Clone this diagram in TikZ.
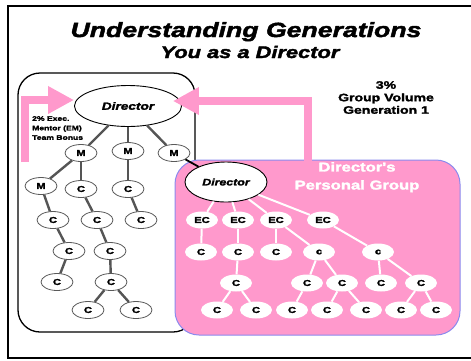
\documentclass[tikz,border=0pt]{standalone}
\usepackage{fontspec}
\setmainfont{Liberation Sans}
\newfontfamily\heavy[FakeStretch=1.3,FakeBold=2.2]{Liberation Sans}
\usepackage{tikz}
\usetikzlibrary{shapes.geometric, arrows.meta, positioning}

\definecolor{bonuspink}{HTML}{FF99CC}
\definecolor{groupedge}{HTML}{8A8AEE}
\definecolor{linkgray}{HTML}{555555}

\begin{document}
\begin{tikzpicture}[
    x=1pt, y=-1pt,
    boss/.style={ellipse, draw, line width=0.9pt, fill=white, inner sep=0pt, font=\heavy\bfseries\itshape\fontsize{10.5}{10.5}\selectfont},
    tnode/.style={ellipse, draw=black!65, line width=0.8pt, fill=white, minimum width=32pt, minimum height=17pt, inner sep=0pt, font=\heavy\bfseries\fontsize{8.5}{8.5}\selectfont},
    pnode/.style={ellipse, fill=white, minimum width=32pt, minimum height=17pt, inner sep=0pt, font=\heavy\bfseries\fontsize{8.5}{8.5}\selectfont},
    link/.style={draw=linkgray, line width=2.4pt},
    plink/.style={draw=white, line width=2pt},
    bonus/.style={draw=bonuspink, line width=8pt, -{Triangle[length=26pt,width=26pt]}}
]
\useasboundingbox (0,0) rectangle (471,360);

% Frame and titles
\draw[line width=2pt] (8,6) rectangle (476,358);
\node[anchor=base, font=\heavy\bfseries\itshape\fontsize{20.5}{21}\selectfont] (title) at (246,37) {Understanding Generations};
\node[anchor=base, font=\heavy\bfseries\itshape\fontsize{16.8}{17}\selectfont] (subtitle) at (250,58) {You as a Director};

% Director's downline
\draw[line width=1.3pt, rounded corners=22pt] (18,73) rectangle (195,332);

\node[boss, minimum width=107pt, minimum height=41pt] (dir) at (128,106) {Director};
\node[tnode] (m1) at (81,153) {M};
\node[tnode] (m2) at (128,151) {M};
\node[tnode] (m3) at (174,153) {M};
\node[tnode] (m4) at (41,186) {M};
\node[tnode] (c1) at (81,189) {C};
\node[tnode] (c2) at (128,189) {C};
\node[tnode] (c3) at (53,220) {C};
\node[tnode] (c4) at (97,220) {C};
\node[tnode] (c5) at (141,220) {C};
\node[tnode] (c6) at (69,251) {C};
\node[tnode] (c7) at (110,251) {C};
\node[tnode] (c8) at (57,282) {C};
\node[tnode] (c9) at (111,282) {C};
\node[tnode] (c10) at (88,310) {C};
\node[tnode] (c11) at (136,310) {C};

\draw[link] (dir) -- (m1);
\draw[link] (dir) -- (m2);
\draw[link] (dir) -- (m3);
\draw[link] (m1) -- (m4);
\draw[link] (m1) -- (c1);
\draw[link] (m2) -- (c2);
\draw[link] (m4) -- (c3);
\draw[link] (c1) -- (c4);
\draw[link] (c2) -- (c5);
\draw[link] (c3) -- (c6);
\draw[link] (c4) -- (c7);
\draw[link] (c6) -- (c8);
\draw[link] (c7) -- (c9);
\draw[link] (c9) -- (c10);
\draw[link] (c9) -- (c11);

% Exec. mentor bonus
\node[anchor=north west, align=left, inner sep=0pt, font=\heavy\bfseries\fontsize{6.6}{9.5}\selectfont] (embonus) at (32,116) {2\% Exec.\\Mentor (EM)\\Team Bonus};
\coordinate (bonusfoot) at (25,162);
\draw[bonus] (bonusfoot) |- ([yshift=6pt]dir.west);

% Personal group
\draw[groupedge, fill=bonuspink, line width=1pt, rounded corners=24pt] (175,160) rectangle (460,335);
\node[anchor=north, align=center, inner sep=0pt, text=white, font=\heavy\bfseries\fontsize{12.8}{18}\selectfont] (grouplabel) at (357,162) {Director's\\Personal Group};

% Group volume
\node[anchor=north, align=center, inner sep=0pt, font=\heavy\bfseries\fontsize{10.8}{12.5}\selectfont] (gvlabel) at (386,81) {3\%\\Group Volume\\Generation 1};
\coordinate (groupfoot) at (307.5,161);
\draw[bonus] (groupfoot) |- ([xshift=-9pt,yshift=5pt]dir.east);

\node[boss, minimum width=82pt, minimum height=40pt, font=\heavy\bfseries\itshape\fontsize{9.5}{9.5}\selectfont] (dirp) at (226,182) {Director};
\draw[line width=1.8pt] (m3) -- (dirp);

\node[pnode] (ec1) at (202,220) {EC};
\node[pnode] (ec2) at (238,220) {EC};
\node[pnode] (ec3) at (276,220) {EC};
\node[pnode] (ec4) at (323,220) {EC};
\node[pnode] (p1) at (201,252) {C};
\node[pnode] (p2) at (238,252) {C};
\node[pnode] (p3) at (276,252) {C};
\node[pnode] (p4) at (319,252) {c};
\node[pnode] (p5) at (378,252) {c};
\node[pnode] (q1) at (236,283) {C};
\node[pnode] (q2) at (307,283) {C};
\node[pnode] (q3) at (342,283) {C};
\node[pnode] (q4) at (381,283) {C};
\node[pnode] (q5) at (421,283) {C};
\node[pnode] (r1) at (217,310) {C};
\node[pnode] (r2) at (256,310) {C};
\node[pnode] (r3) at (292,310) {C};
\node[pnode] (r4) at (327,310) {C};
\node[pnode] (r5) at (366,310) {C};
\node[pnode] (r6) at (401,310) {C};
\node[pnode] (r7) at (436,310) {C};

\draw[plink] (dirp) -- (ec1);
\draw[plink] (dirp) -- (ec2);
\draw[plink] (dirp) -- (ec3);
\draw[plink] (dirp) -- (ec4);
\draw[plink] (ec1) -- (p1);
\draw[plink] (ec2) -- (p2);
\draw[plink] (ec3) -- (p3);
\draw[plink] (ec3) -- (p4);
\draw[plink] (ec4) -- (p5);
\draw[plink] (p2) -- (q1);
\draw[plink] (p4) -- (q2);
\draw[plink] (p4) -- (q3);
\draw[plink] (p5) -- (q4);
\draw[plink] (p5) -- (q5);
\draw[plink] (q1) -- (r1);
\draw[plink] (q1) -- (r2);
\draw[plink] (q2) -- (r3);
\draw[plink] (q3) -- (r4);
\draw[plink] (q3) -- (r5);
\draw[plink] (q5) -- (r6);
\draw[plink] (q5) -- (r7);

\end{tikzpicture}
\end{document}
